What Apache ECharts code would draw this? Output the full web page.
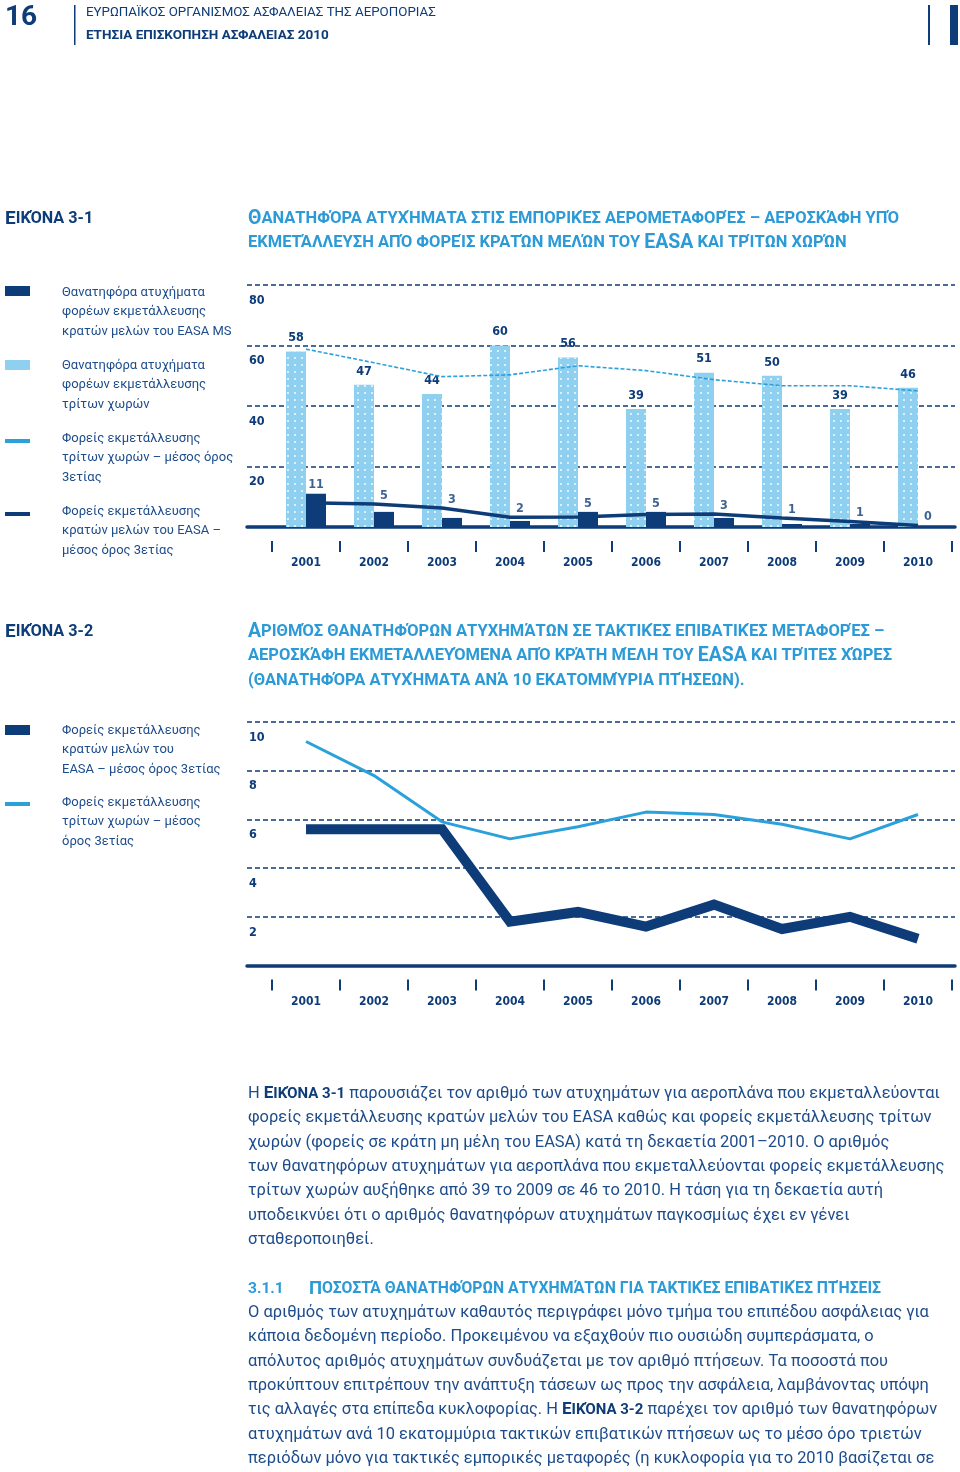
<!DOCTYPE html>
<html>
<head>
<meta charset="utf-8">
<script src="https://cdn.jsdelivr.net/npm/echarts@6/dist/echarts.min.js"></script>
<style>
html,body{margin:0;padding:0;background:#fff;}
#c{width:960px;height:1472px;}
</style>
</head>
<body>
<div id="c"></div>
<script>
// ---- data ----
const years = ['2001','2002','2003','2004','2005','2006','2007','2008','2009','2010'];
// Figure 3-1: fatal accidents (counts)
const thirdFatal = [58, 47, 44, 60, 56, 39, 51, 50, 39, 46];
const easaFatal  = [11, 5, 3, 2, 5, 5, 3, 1, 1, 0];
const thirdAvg3  = [58.8, 54.3, 49.7, 50.3, 53.3, 51.7, 48.7, 46.7, 46.7, 45.0];
const easaAvg3   = [8.0, 7.6, 6.3, 3.2, 3.3, 4.1, 4.3, 3.0, 1.8, 0.5];
// Figure 3-2: fatal accidents per 10 million flights (3-year average)
const easaRate  = [5.6, 5.6, 5.6, 1.8, 2.2, 1.6, 2.5, 1.5, 2.0, 1.1];
const thirdRate = [9.2, 7.8, 5.9, 5.2, 5.7, 6.3, 6.2, 5.8, 5.2, 6.2];

const legend1 = [
  'Θανατηφόρα ατυχήματα\nφορέων εκμετάλλευσης\nκρατών μελών του EASA MS',
  'Θανατηφόρα ατυχήματα\nφορέων εκμετάλλευσης\nτρίτων χωρών',
  'Φορείς εκμετάλλευσης\nτρίτων χωρών – μέσος όρος\n3ετίας',
  'Φορείς εκμετάλλευσης\nκρατών μελών του EASA –\nμέσος όρος 3ετίας'
];
const legend2 = [
  'Φορείς εκμετάλλευσης\nκρατών μελών του\nEASA – μέσος όρος 3ετίας',
  'Φορείς εκμετάλλευσης\nτρίτων χωρών – μέσος\nόρος 3ετίας'
];

// ---- styles ----
const NAVY = '#0d3c78';
const LIGHT = '#8fd0f0';
const LLINE = '#2ba1db';
const TBLUE = '#2b9ad6';
const TXT = '#1d4c8b';
const COND = "'DejaVu Sans Condensed',Roboto,sans-serif";
const BODY = "Roboto,'Noto Sans',sans-serif";

const chart = echarts.init(document.getElementById('c'), null, {renderer:'canvas'});

function bgGrid(){ return {type:'value', min:0, max:1, axisLine:{show:true, onZero:false, lineStyle:{color:NAVY, width:3.5}}, axisTick:{show:false}, axisLabel:{show:false}, splitLine:{show:false}}; }
function catAxis(grid){ return {gridIndex:grid, type:'category', data:years, offset:14,
  axisLine:{show:false, onZero:false},
  axisTick:{show:true, length:11, lineStyle:{color:NAVY, width:2}},
  axisLabel:{margin:16, color:NAVY, fontFamily:COND, fontWeight:'bold', fontSize:12}}; }
function bgY(grid, max, interval){ return {gridIndex:grid, type:'value', min:0, max:max, interval:interval,
  axisLine:{show:false}, axisTick:{show:false},
  splitLine:{show:true, lineStyle:{color:NAVY, width:1.5, type:[5,3]}},
  axisLabel:{inside:true, margin:2, verticalAlign:'top', padding:[9,0,0,0], showMinLabel:false,
    color:NAVY, fontFamily:COND, fontWeight:'bold', fontSize:12.5}}; }
function hidY(grid, max){ return {gridIndex:grid, type:'value', min:0, max:max, show:false, splitLine:{show:false}}; }

const graphic = [];
// header
graphic.push({type:'text', left:5, top:4, style:{text:'16', font:'bold 28px '+BODY, fill:NAVY}});
graphic.push({type:'rect', shape:{x:74, y:5, width:1.5, height:40}, style:{fill:NAVY}});
graphic.push({type:'text', x:86, y:13, style:{text:'ΕΥΡΩΠΑΪΚΟΣ ΟΡΓΑΝΙΣΜΟΣ ΑΣΦΑΛΕΙΑΣ ΤΗΣ ΑΕΡΟΠΟΡΙΑΣ', font:'13.3px '+BODY, fill:NAVY, verticalAlign:'middle'}});
graphic.push({type:'text', x:86, y:36, style:{text:'ΕΤΗΣΙΑ ΕΠΙΣΚΟΠΗΣΗ ΑΣΦΑΛΕΙΑΣ 2010', font:'bold 13.5px '+BODY, fill:NAVY, verticalAlign:'middle'}});
graphic.push({type:'rect', shape:{x:928, y:5, width:2, height:40}, style:{fill:NAVY}});
graphic.push({type:'rect', shape:{x:950, y:5, width:8, height:40}, style:{fill:NAVY}});

function scText(x, y, txt, color, bigSize, smSize){
  bigSize = bigSize || 19.5; smSize = smSize || 16.5;
  graphic.push({type:'text', x:x, y:y, style:{text:txt, rich:{
    big:{fill:color, fontSize:bigSize, fontWeight:'bold', fontFamily:BODY},
    sm:{fill:color, fontSize:smSize, fontWeight:'bold', fontFamily:BODY}}, fill:color, verticalAlign:'middle'}});
}
scText(5, 219, '{big|Ε}{sm|ΙΚΌΝΑ 3-1}', NAVY, 19, 16.2);
scText(248, 219, '{big|Θ}{sm|ΑΝΑΤΗΦΌΡΑ ΑΤΥΧΉΜΑΤΑ ΣΤΙΣ ΕΜΠΟΡΙΚΈΣ ΑΕΡΟΜΕΤΑΦΟΡΈΣ – ΑΕΡΟΣΚΆΦΗ ΥΠΌ}', TBLUE);
scText(248, 243, '{sm|ΕΚΜΕΤΆΛΛΕΥΣΗ ΑΠΌ ΦΟΡΕΊΣ ΚΡΑΤΏΝ ΜΕΛΏΝ ΤΟΥ }{big|EASA}{sm| ΚΑΙ ΤΡΊΤΩΝ ΧΩΡΏΝ}', TBLUE);
scText(5, 632, '{big|Ε}{sm|ΙΚΌΝΑ 3-2}', NAVY, 19, 16.2);
scText(248, 632, '{big|Α}{sm|ΡΙΘΜΌΣ ΘΑΝΑΤΗΦΌΡΩΝ ΑΤΥΧΗΜΆΤΩΝ ΣΕ ΤΑΚΤΙΚΈΣ ΕΠΙΒΑΤΙΚΈΣ ΜΕΤΑΦΟΡΈΣ –}', TBLUE);
scText(248, 656, '{sm|ΑΕΡΟΣΚΆΦΗ ΕΚΜΕΤΑΛΛΕΥΌΜΕΝΑ ΑΠΌ ΚΡΆΤΗ ΜΈΛΗ ΤΟΥ }{big|EASA}{sm| ΚΑΙ ΤΡΊΤΕΣ ΧΏΡΕΣ}', TBLUE);
scText(248, 681, '{sm|(ΘΑΝΑΤΗΦΌΡΑ ΑΤΥΧΉΜΑΤΑ ΑΝΆ 10 ΕΚΑΤΟΜΜΎΡΙΑ ΠΤΉΣΕΩΝ).}', TBLUE);

// legends
function legItem(iconY, iconH, color, textY, txt){
  graphic.push({type:'rect', shape:{x:5, y:iconY, width:25, height:iconH}, style:{fill:color}});
  graphic.push({type:'text', x:62, y:textY-9.75, style:{text:txt, font:'13px '+BODY, fill:TXT, lineHeight:19.3, verticalAlign:'top'}});
}
legItem(286, 10, NAVY, 293, legend1[0]);
legItem(360, 10, LIGHT, 366, legend1[1]);
legItem(439, 4, LLINE, 439, legend1[2]);
legItem(512, 4, NAVY, 512, legend1[3]);
legItem(725, 10, NAVY, 731, legend2[0]);
legItem(802, 4, LLINE, 803, legend2[1]);

// body text
const bodyRich = {b:{fontWeight:'bold', fontSize:15, fontFamily:BODY, fill:NAVY}, bb:{fontWeight:'bold', fontSize:17, fontFamily:BODY, fill:NAVY}};
function para(lines, y0, step){
  lines.forEach((t,i)=>{
    graphic.push({type:'text', x:248, y:y0+i*step, style:{text:t, rich:bodyRich, font:'16.45px '+BODY, fill:TXT, verticalAlign:'middle'}});
  });
}
para([
  'Η {bb|Ε}{b|ΙΚΌΝΑ 3-1} παρουσιάζει τον αριθμό των ατυχημάτων για αεροπλάνα που εκμεταλλεύονται',
  'φορείς εκμετάλλευσης κρατών μελών του EASA καθώς και φορείς εκμετάλλευσης τρίτων',
  'χωρών (φορείς σε κράτη μη μέλη του EASA) κατά τη δεκαετία 2001–2010. Ο αριθμός',
  'των θανατηφόρων ατυχημάτων για αεροπλάνα που εκμεταλλεύονται φορείς εκμετάλλευσης',
  'τρίτων χωρών αυξήθηκε από 39 το 2009 σε 46 το 2010. Η τάση για τη δεκαετία αυτή',
  'υποδεικνύει ότι ο αριθμός θανατηφόρων ατυχημάτων παγκοσμίως έχει εν γένει',
  'σταθεροποιηθεί.'
], 1094, 24.3);
graphic.push({type:'text', x:248, y:1289, style:{text:'3.1.1', font:'bold 15.5px '+BODY, fill:TBLUE, verticalAlign:'middle'}});
scText(309, 1289, '{big|Π}{sm|ΟΣΟΣΤΆ ΘΑΝΑΤΗΦΌΡΩΝ ΑΤΥΧΗΜΆΤΩΝ ΓΙΑ ΤΑΚΤΙΚΈΣ ΕΠΙΒΑΤΙΚΈΣ ΠΤΉΣΕΙΣ}', TBLUE, 18.5, 15.8);
para([
  'Ο αριθμός των ατυχημάτων καθαυτός περιγράφει μόνο τμήμα του επιπέδου ασφάλειας για',
  'κάποια δεδομένη περίοδο. Προκειμένου να εξαχθούν πιο ουσιώδη συμπεράσματα, ο',
  'απόλυτος αριθμός ατυχημάτων συνδυάζεται με τον αριθμό πτήσεων. Τα ποσοστά που',
  'προκύπτουν επιτρέπουν την ανάπτυξη τάσεων ως προς την ασφάλεια, λαμβάνοντας υπόψη',
  'τις αλλαγές στα επίπεδα κυκλοφορίας. Η {bb|Ε}{b|ΙΚΌΝΑ 3-2} παρέχει τον αριθμό των θανατηφόρων',
  'ατυχημάτων ανά 10 εκατομμύρια τακτικών επιβατικών πτήσεων ως το μέσο όρο τριετών',
  'περιόδων μόνο για τακτικές εμπορικές μεταφορές (η κυκλοφορία για το 2010 βασίζεται σε'
], 1313, 24.3);

const lblStyle = {color:NAVY, fontFamily:COND, fontWeight:'bold', fontSize:12.5};

const option = {
  backgroundColor:'#fff',
  animation:false,
  grid:[
    {left:247, right:5, top:285, height:242, outerBoundsMode:'none'},
    {left:272, right:8, top:285, height:242, outerBoundsMode:'none'},
    {left:247, right:5, top:722, height:243.5, outerBoundsMode:'none'},
    {left:272, right:8, top:722, height:243.5, outerBoundsMode:'none'}
  ],
  xAxis:[
    Object.assign({gridIndex:0}, bgGrid()),
    catAxis(1),
    Object.assign({gridIndex:2}, bgGrid()),
    catAxis(3)
  ],
  yAxis:[ bgY(0, 80, 20), hidY(1, 80), bgY(2, 10, 2), hidY(3, 10) ],
  series:[
    {name:'third', type:'bar', xAxisIndex:1, yAxisIndex:1, data:thirdFatal, barWidth:20, barGap:'0%',
     itemStyle:{color:LIGHT, decal:{symbol:'circle', symbolSize:1, color:'rgba(255,255,255,0.9)', dashArrayX:[2,5], dashArrayY:[2,5]}},
     label:Object.assign({show:true, position:'top', distance:7}, lblStyle)},
    {name:'easa', type:'bar', xAxisIndex:1, yAxisIndex:1, data:easaFatal, barWidth:20, barGap:'0%',
     itemStyle:{color:NAVY}},
    {name:'thirdAvg', type:'line', xAxisIndex:1, yAxisIndex:1, data:thirdAvg3, symbol:'none', z:5,
     lineStyle:{color:LLINE, width:1.6, type:[4,2]}},
    {name:'easaAvg', type:'line', xAxisIndex:1, yAxisIndex:1, data:easaAvg3, symbol:'none', z:5,
     lineStyle:{color:NAVY, width:3.5}},
    {name:'easaLabels', type:'scatter', xAxisIndex:1, yAxisIndex:1, silent:true, symbolSize:0, z:6,
     data:years.map((y,i)=>[i, Math.max(easaFatal[i], easaAvg3[i])]),
     label:Object.assign({show:true, position:'top', distance:2, offset:[10,0], formatter:p=>String(easaFatal[p.dataIndex])}, lblStyle)},
    {name:'easaRate', type:'line', xAxisIndex:3, yAxisIndex:3, data:easaRate, symbol:'none', z:4,
     lineStyle:{color:NAVY, width:10, cap:'butt', join:'miter'}},
    {name:'thirdRate', type:'line', xAxisIndex:3, yAxisIndex:3, data:thirdRate, symbol:'none', z:5,
     lineStyle:{color:LLINE, width:3}}
  ],
  graphic:graphic
};
chart.setOption(option);
</script>
</body>
</html>
